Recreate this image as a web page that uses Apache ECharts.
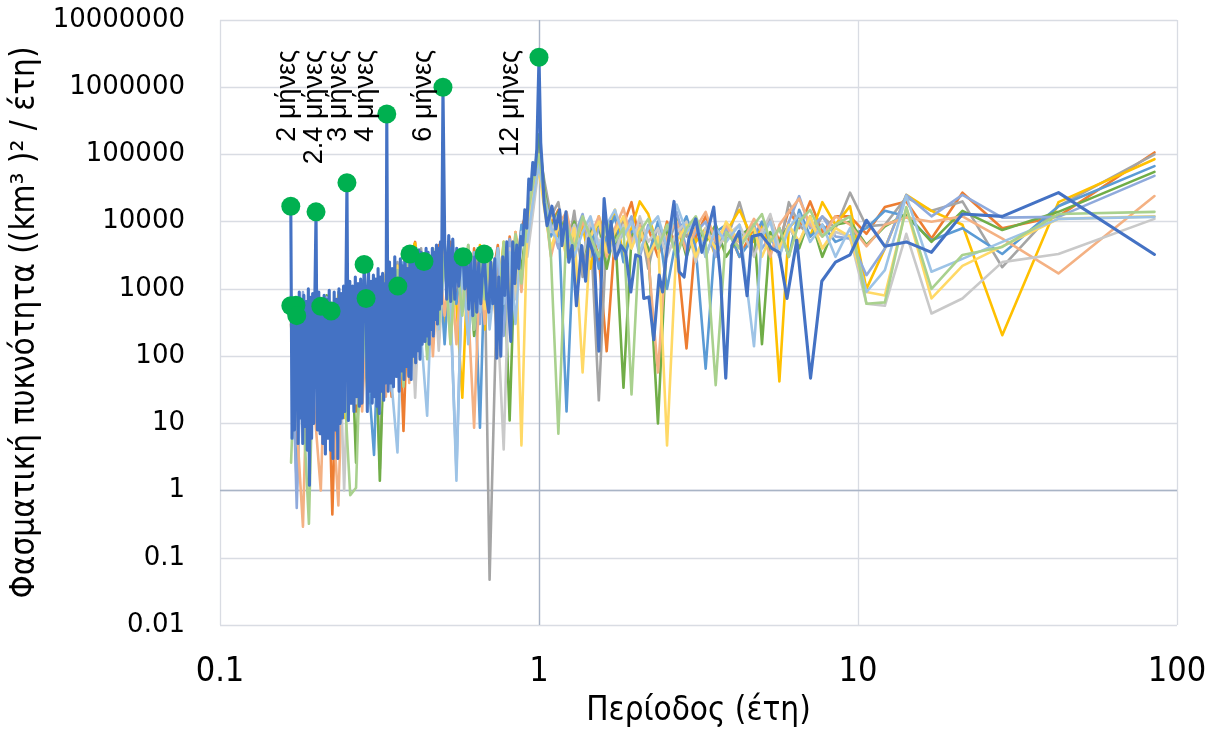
<!DOCTYPE html>
<html>
<head>
<meta charset="utf-8">
<script src="https://cdn.jsdelivr.net/npm/echarts@6.0.0/dist/echarts.min.js"></script>
<style>
html, body { margin: 0; padding: 0; background: #ffffff; }
#chart { width: 1215px; height: 733px; }
</style>
</head>
<body>
<div id="chart"></div>
<script>
// Shared period grid (years) for the eleven background spectra
const periodGrid = [
  0.167, 0.174, 0.182, 0.19, 0.198, 0.207, 0.216, 0.225, 0.235, 0.245,
  0.256, 0.267, 0.279, 0.291, 0.304, 0.317, 0.331, 0.345, 0.36, 0.376,
  0.392, 0.409, 0.427, 0.446, 0.465, 0.485, 0.506, 0.528, 0.551, 0.575,
  0.6, 0.626, 0.653, 0.676, 0.70, 0.743, 0.775, 0.809, 0.844, 0.881,
  0.919, 0.96,
  1.0, 1.04, 1.09, 1.15, 1.22, 1.29, 1.37, 1.45, 1.54, 1.63,
  1.73, 1.84, 1.95, 2.07, 2.2, 2.36, 2.52, 2.7, 2.9, 3.1,
  3.33, 3.58, 3.86, 4.25, 4.72, 5.0, 5.31, 5.67, 6.07, 6.54,
  7.08, 7.73, 8.5, 9.44,
  10.63, 12.14, 14.17, 17, 21.25, 28.33, 42.5, 85
];

// Spectral density values on periodGrid, one array per station
const densOrange = [
  300, 12, 700, 30, 500, 8, 650, 0.44, 800, 20,
  900, 15, 1200, 40, 1000, 60, 1500, 25, 2000, 7.7,
  2500, 5000, 150, 3000, 400, 4500, 300, 5000, 600, 3500,
  200, 4000, 500, 3000, 800, 4500, 300, 6000, 1500, 8000,
  15000, 25000,
  150000, 30000, 9000, 15000, 4000, 12000, 2000, 8000, 3000, 118,
  6000, 9000, 19500, 5000, 8000, 3000, 10000, 4000, 130, 6000,
  12000, 5000, 9000, 3000, 8000, 6000, 12000, 5000, 15000, 8000,
  20000, 7000, 12000, 12000,
  6600, 16500, 20000, 5600, 27000, 8000, 12000, 107000
];
const densGray = [
  400, 5, 600, 15, 700, 25, 500, 10, 900, 30,
  800, 20, 1100, 50, 1300, 2.1, 1500, 40, 2500, 100,
  3000, 200, 4000, 120, 3500, 500, 4000, 250, 3000, 600,
  4500, 300, 3500, 2000, 0.047, 3000, 400, 5000, 800, 7000,
  4000, 18000,
  120000, 40000, 12000, 19500, 3000, 14500, 1500, 9000, 22, 7000,
  3000, 12000, 5000, 10000, 2000, 9000, 4000, 11000, 6000, 11000,
  3000, 8000, 5000, 19500, 3500, 6000, 12000, 4000, 19500, 9000,
  6000, 12000, 8000, 27000,
  8500, 9000, 23000, 14500, 20000, 2100, 17000, 100000
];
const densYellow = [
  350, 20, 500, 8, 600, 15, 700, 30, 800, 12,
  1000, 35, 900, 20, 1200, 45, 1400, 60, 2200, 90,
  3000, 4800, 300, 2500, 150, 4000, 250, 3500, 600, 24,
  3000, 400, 4500, 250, 3000, 700, 5000, 350, 7000, 1500,
  12000, 30000,
  100000, 25000, 10000, 6000, 12000, 3500, 9000, 2000, 12000, 5000,
  15000, 3000, 8000, 20000, 13000, 4000, 9000, 3000, 10000, 5000,
  8000, 3000, 7000, 15000, 5000, 9000, 4000, 42, 8000, 12000,
  6000, 19500, 9000, 17000,
  1000, 4000, 25000, 14500, 9000, 205, 19500, 85000
];
const densSky = [
  500, 1.1, 600, 10, 700, 25, 550, 12, 650, 40,
  1000, 30, 800, 60, 3.4, 1200, 80, 1800, 50, 2500,
  120, 3000, 200, 2000, 300, 3500, 150, 4000, 600, 2500,
  200, 3000, 8.6, 2500, 500, 4000, 300, 5000, 1000, 9000,
  6000, 20000,
  80000, 20000, 6000, 12000, 15, 8000, 3000, 10000, 2000, 6000,
  12000, 2500, 7000, 9000, 3000, 10000, 1000, 6000, 12000, 4000,
  65, 7000, 9000, 3000, 6000, 10000, 5000, 8000, 3000, 15000,
  6000, 9000, 5000, 6200,
  8000, 14500, 12000, 5300, 8000, 3300, 17000, 67000
];
const densGreen = [
  450, 15, 550, 6, 650, 20, 800, 8, 500, 25,
  700, 2.6, 900, 40, 1100, 1.4, 1300, 70, 1800, 40,
  2800, 100, 3500, 250, 3000, 180, 4500, 400, 3000, 800,
  2500, 200, 3500, 600, 3000, 250, 4000, 11, 6000, 2000,
  10000, 35000,
  200000, 30000, 8000, 14000, 5000, 10000, 3000, 7000, 9000, 2000,
  8000, 34, 6000, 9000, 4000, 10, 7000, 11000, 3000, 8000,
  5000, 9000, 3000, 6000, 9000, 150, 7000, 5000, 9000, 4000,
  12000, 3000, 9000, 10000,
  4500, 8500, 13000, 5000, 14500, 7500, 14000, 55000
];
const densLavender = [
  800, 0.55, 900, 20, 650, 8, 750, 35, 600, 15,
  1000, 40, 1300, 25, 900, 70, 1600, 30, 2000, 150,
  3500, 60, 2800, 300, 4000, 200, 3000, 500, 2, 2000,
  500, 3500, 300, 4000, 700, 3000, 200, 5500, 900, 7000,
  8000, 20000,
  90000, 25000, 9000, 4000, 11000, 6000, 13000, 3000, 8000, 10000,
  4000, 7000, 12000, 3000, 9000, 5000, 8000, 14000, 4000, 7000,
  10000, 3000, 8000, 5000, 9000, 4000, 6000, 3000, 10000, 24000,
  8000, 12000, 6000, 5600,
  1600, 4000, 25000, 12000, 25000, 11500, 11800, 48000
];
const densSalmon = [
  600, 10, 0.29, 700, 15, 1.0, 650, 20, 0.6, 500,
  30, 800, 15, 1000, 50, 1200, 25, 1500, 80, 2000,
  40, 2500, 150, 3000, 100, 3500, 400, 2500, 150, 3000,
  500, 8.6, 2500, 300, 4000, 150, 4500, 600, 7000, 900,
  15000, 30000,
  80000, 20000, 3000, 9000, 14000, 4000, 10000, 6000, 12000, 3000,
  8000, 16000, 5000, 9000, 3000, 57, 6000, 10000, 3500, 8000,
  14000, 5000, 9000, 4000, 11000, 7000, 3000, 9000, 14000, 22000,
  9000, 6000, 12000, 9000,
  4300, 9000, 11500, 10000, 12000, 5600, 1700, 24000
];
const densSilver = [
  300, 8, 450, 25, 600, 12, 500, 40, 700, 1.0,
  800, 20, 600, 35, 1000, 15, 1200, 50, 1600, 90,
  2000, 24, 2500, 200, 3000, 120, 3500, 350, 2500, 500,
  3000, 250, 2000, 600, 2500, 300, 4.1, 4000, 700, 6000,
  3000, 15000,
  70000, 20000, 7000, 13000, 4000, 9000, 3000, 10000, 5000, 7000,
  3000, 9000, 4000, 12000, 5000, 8000, 3000, 7000, 10000, 2500,
  8000, 4000, 6000, 9000, 3000, 7000, 13000, 4000, 8000, 5000,
  11000, 4000, 7000, 6000,
  600, 560, 6600, 430, 720, 2500, 3300, 11000
];
const densSand = [
  400, 30, 550, 12, 700, 40, 450, 18, 650, 60,
  900, 45, 1100, 80, 1300, 50, 1800, 100, 2200, 150,
  2600, 80, 3000, 400, 3500, 250, 4000, 150, 3000, 700,
  2500, 350, 4000, 500, 3000, 200, 4500, 800, 6000, 4.7,
  9000, 25000,
  60000, 15000, 4000, 9000, 3000, 8000, 57, 6000, 10000, 3500,
  7000, 12000, 4000, 8000, 3000, 6000, 4.7, 5000, 9000, 3000,
  7000, 4000, 10000, 5000, 8000, 3000, 6000, 4000, 9000, 5000,
  12000, 4000, 8000, 6000,
  900, 800, 16000, 720, 2200, 4300, 11000, 12000
];
const densPaleBlue = [
  700, 20, 500, 6, 800, 30, 600, 10, 700, 25,
  900, 60, 1100, 30, 1400, 90, 1200, 40, 3.7, 2000,
  110, 2800, 200, 13, 3000, 250, 2500, 600, 1.4, 3500,
  150, 2500, 450, 3000, 250, 4000, 600, 3500, 300, 7000,
  5000, 22000,
  70000, 22000, 8000, 5000, 10000, 3000, 7000, 12000, 4000, 9000,
  15000, 6000, 10000, 3500, 8000, 12000, 4000, 18000, 7000, 10000,
  3000, 8000, 5000, 9000, 140, 6000, 10000, 3000, 8000, 13000,
  5000, 9000, 3000, 8000,
  900, 1900, 24000, 1800, 2800, 5000, 11000, 11800
];
const densSage = [
  2.6, 500, 20, 0.32, 600, 12, 700, 25, 550, 40,
  0.85, 1.1, 900, 30, 1100, 20, 1400, 60, 1900, 35,
  2400, 150, 3200, 90, 4000, 300, 3000, 150, 3500, 400,
  4500, 250, 3000, 700, 4000, 350, 5000, 450, 6500, 1200,
  12000, 40000,
  100000, 25000, 3000, 7, 9000, 4000, 12000, 6000, 3000, 10000,
  5000, 8000, 27, 7000, 11000, 4000, 9000, 3000, 8000, 12000,
  5000, 37, 7000, 4000, 9000, 13000, 5000, 8000, 3000, 10000,
  15000, 6000, 9000, 12000,
  600, 630, 16500, 1000, 3200, 4200, 13000, 14000
];

// Main station: [period (years), spectral density]
const mainSpectrum = [
  // 2 to 2.4 months
  [0.1667, 17000], [0.1682, 6], [0.1697, 560], [0.1712, 8], [0.1727, 570], [0.1742, 400], [0.1757, 5], [0.1772, 900], [0.1787, 12], [0.1802, 700],
  [0.1817, 5], [0.1832, 800], [0.1847, 9], [0.1862, 650], [0.1877, 4], [0.1892, 1000], [0.1907, 1.2], [0.1922, 750], [0.1937, 6], [0.1952, 850],
  [0.1967, 10], [0.1982, 600], [0.2, 14000],
  // 2.4 to 3 months
  [0.202, 8], [0.204, 900], [0.206, 7], [0.208, 550], [0.21, 5], [0.212, 800], [0.214, 3.5], [0.216, 700], [0.218, 6], [0.22, 950],
  [0.222, 4], [0.224, 470], [0.226, 3], [0.228, 900], [0.23, 8], [0.232, 700], [0.234, 3], [0.236, 1000], [0.238, 10], [0.24, 850],
  [0.242, 12], [0.244, 1100], [0.246, 15], [0.248, 700], [0.25, 38000],
  // 3 to 4 months
  [0.2526, 11], [0.2552, 1300], [0.2578, 20], [0.2604, 1100], [0.263, 15], [0.2656, 1500], [0.2682, 25], [0.2708, 1200], [0.2734, 18], [0.276, 1400],
  [0.2786, 20], [0.283, 2300], [0.287, 720], [0.2896, 15], [0.2922, 1800], [0.2948, 30], [0.2974, 1300], [0.3, 20], [0.3026, 1600], [0.3052, 25],
  [0.3078, 1400], [0.3104, 18], [0.313, 2000], [0.3156, 14], [0.3182, 1500], [0.3208, 30], [0.3234, 1700], [0.326, 22], [0.3286, 1200], [0.3312, 40],
  [0.3333, 400000],
  // 4 to 6 months
  [0.3366, 30], [0.3399, 2500], [0.3432, 40], [0.3465, 2000], [0.3498, 35], [0.3531, 3000], [0.3564, 50], [0.361, 1100], [0.3643, 30], [0.3676, 2800],
  [0.3709, 60], [0.3742, 2200], [0.3775, 45], [0.3808, 2600], [0.3841, 70], [0.3874, 2000], [0.3907, 50], [0.394, 3300], [0.3973, 45], [0.4006, 4000],
  [0.4039, 100], [0.4072, 2500], [0.4105, 80], [0.4138, 3000], [0.4171, 120], [0.4204, 3800], [0.4237, 90], [0.427, 3500], [0.4303, 150], [0.4336, 2800],
  [0.436, 2550], [0.4393, 165], [0.4426, 4000], [0.4459, 200], [0.4492, 3500], [0.4526, 150], [0.456, 3000], [0.4595, 250], [0.463, 4000], [0.4665, 200],
  [0.47, 3500], [0.4735, 350], [0.477, 4500], [0.4805, 300], [0.484, 4000], [0.4875, 500], [0.491, 5000], [0.4945, 600], [0.5, 1000000],
  // 6 to 12 months
  [0.5064, 5000], [0.5138, 700], [0.5213, 6200], [0.5289, 650], [0.5366, 5500], [0.5444, 700], [0.5523, 4000], [0.5603, 1100], [0.5685, 2500], [0.578, 3000],
  [0.5851, 1000], [0.5936, 3500], [0.6023, 500], [0.611, 2800], [0.6199, 400], [0.6289, 3000], [0.6381, 450], [0.6474, 2500], [0.6568, 600], [0.6664, 2000],
  [0.673, 3300], [0.6859, 700], [0.6959, 450], [0.706, 2500], [0.7163, 600], [0.7267, 2800], [0.7373, 93], [0.748, 1500], [0.7589, 100], [0.77, 3000],
  [0.7812, 800], [0.7925, 5000], [0.8041, 500], [0.8158, 165], [0.8276, 5000], [0.8397, 1200], [0.8519, 4500], [0.8643, 2000], [0.8769, 6000], [0.8896, 4500],
  [0.9026, 15000], [0.9157, 8000], [0.929, 43000], [0.9426, 30000], [0.9563, 76000], [0.9702, 50000], [0.9843, 120000], [1, 2800000],
  // longer than a year
  [1.0125, 150000], [1.025, 60000], [1.037, 19500], [1.06, 8700], [1.098, 17000], [1.13, 7800], [1.16, 15000], [1.18, 4400], [1.215, 14000], [1.24, 2500],
  [1.27, 4400], [1.31, 560], [1.36, 4400], [1.4, 1300], [1.43, 5600], [1.49, 3000], [1.54, 118], [1.6, 22000], [1.66, 3500], [1.68, 10000],
  [1.74, 2800], [1.81, 4400], [1.87, 3500], [1.94, 900], [2.01, 3200], [2.08, 3000], [2.13, 720], [2.21, 760], [2.29, 175], [2.38, 1600],
  [2.44, 900], [2.5, 2800], [2.65, 20000], [2.75, 1800], [2.85, 1500], [2.95, 5600], [3.1, 11000], [3.24, 3500], [3.36, 6500], [3.53, 16500],
  [3.71, 1400], [3.85, 47], [4.02, 4400], [4.24, 7200], [4.49, 790], [4.65, 6000], [4.96, 6500], [5.18, 5000], [5.37, 4000], [5.66, 3500],
  [5.99, 720], [6.43, 5300], [7.1, 47], [7.7, 1300], [8.5, 2500], [9.44, 3200], [10.63, 10500], [12.14, 4300], [14.17, 5000], [17, 3500],
  [21.25, 13000], [28.33, 12000], [42.5, 27000], [85, 3250]
];

// Highlighted spectral peaks of the main station
const peakPeriods = [0.1667, 0.2, 0.25, 0.3333, 0.5, 1.0, 0.1667, 0.173, 0.174, 0.207, 0.223, 0.283, 0.287, 0.361, 0.394, 0.436, 0.578, 0.673];
const peakValues = [17000, 14000, 38000, 400000, 1000000, 2800000, 560, 570, 400, 550, 470, 2300, 720, 1100, 3300, 2550, 3000, 3300];

// Annotated periodicities
const annotationPeriods = [0.1667, 0.2, 0.25, 0.3333, 0.5, 1.0];
const annotationTexts = ['2 μήνες', '2.4 μήνες', '3 μήνες', '4 μήνες', '6 μήνες', '12 μήνες'];

// Background stations, drawn in this order underneath the main station
const background = [
  { name: 'Σταθμός 2', color: '#ED7D31', values: densOrange },
  { name: 'Σταθμός 3', color: '#A5A5A5', values: densGray },
  { name: 'Σταθμός 4', color: '#FFC000', values: densYellow },
  { name: 'Σταθμός 5', color: '#5B9BD5', values: densSky },
  { name: 'Σταθμός 6', color: '#70AD47', values: densGreen },
  { name: 'Σταθμός 7', color: '#8FAADC', values: densLavender },
  { name: 'Σταθμός 8', color: '#F4B183', values: densSalmon },
  { name: 'Σταθμός 9', color: '#C9C9C9', values: densSilver },
  { name: 'Σταθμός 10', color: '#FFD966', values: densSand },
  { name: 'Σταθμός 11', color: '#9DC3E6', values: densPaleBlue },
  { name: 'Σταθμός 12', color: '#A9D18E', values: densSage }
];

function tickText(v) {
  if (v >= 1) return String(Math.round(v));
  return String(parseFloat(v.toPrecision(1)));
}

const narrowFont = '"Liberation Sans Narrow", "DejaVu Sans Condensed", "Liberation Sans", sans-serif';
const gridColor = '#D9DCE3';
const crossColor = '#A9B4C6';

const series = background.map(function (s, i) {
  const item = {
    name: s.name,
    type: 'line',
    data: s.values.map(function (v, k) { return [periodGrid[k], v]; }),
    showSymbol: false,
    symbol: 'none',
    lineStyle: { color: s.color, width: 2.6, join: 'round', cap: 'round' },
    itemStyle: { color: s.color },
    z: 2 + i * 0.01,
    silent: true
  };
  if (i === 0) {
    // axis lines crossing at period 1 and density 1
    item.markLine = {
      silent: true,
      symbol: ['none', 'none'],
      label: { show: false },
      lineStyle: { color: crossColor, width: 1.3, type: 'solid' },
      data: [{ xAxis: 1 }, { yAxis: 1 }],
      z: 1
    };
  }
  return item;
});

series.push({
  name: 'Σταθμός 1',
  type: 'line',
  data: mainSpectrum,
  showSymbol: false,
  symbol: 'none',
  lineStyle: { color: '#4472C4', width: 3.1, join: 'round', cap: 'round' },
  itemStyle: { color: '#4472C4' },
  z: 3,
  silent: true
});

series.push({
  name: 'Κορυφές',
  type: 'scatter',
  data: peakPeriods.map(function (p, i) { return [p, peakValues[i]]; }),
  symbol: 'circle',
  symbolSize: 19,
  itemStyle: { color: '#00B050', opacity: 1 },
  z: 4,
  silent: true
});

const chart = echarts.init(document.getElementById('chart'), null, { renderer: 'canvas' });

chart.setOption({
  animation: false,
  backgroundColor: '#ffffff',
  grid: { left: 220, right: 38, top: 20, bottom: 105, containLabel: false },
  xAxis: {
    type: 'log',
    logBase: 10,
    min: 0.1,
    max: 100,
    axisLine: { show: false },
    axisTick: { show: false },
    splitLine: { show: true, lineStyle: { color: gridColor, width: 1.3 } },
    axisLabel: {
      formatter: tickText,
      fontFamily: narrowFont,
      fontSize: 34,
      color: '#000000',
      margin: 30
    },
    name: 'Περίοδος (έτη)',
    nameLocation: 'middle',
    nameGap: 70,
    nameTextStyle: { fontFamily: narrowFont, fontSize: 33, color: '#000000' }
  },
  yAxis: {
    type: 'log',
    logBase: 10,
    min: 0.01,
    max: 10000000,
    axisLine: { show: false },
    axisTick: { show: false },
    splitLine: { show: true, lineStyle: { color: gridColor, width: 1.3 } },
    axisLabel: {
      formatter: tickText,
      fontFamily: '"DejaVu Sans", sans-serif',
      fontSize: 26,
      color: '#000000',
      margin: 35
    },
    name: 'Φασματική πυκνότητα ((km³ )² / έτη)',
    nameLocation: 'middle',
    nameGap: 178,
    nameRotate: 90,
    nameTextStyle: { fontFamily: narrowFont, fontSize: 33, color: '#000000' }
  },
  series: series
});

// Rotated period annotations, top-aligned above the peaks
const annotationShift = [-3, -1, -8, -21, -19, -28];
chart.setOption({
  graphic: annotationTexts.map(function (t, i) {
    const px = chart.convertToPixel({ gridIndex: 0 }, [annotationPeriods[i], 1])[0];
    return {
      type: 'text',
      x: px + annotationShift[i],
      y: 50,
      rotation: Math.PI / 2,
      silent: true,
      z: 10,
      style: {
        text: t,
        font: '27px "Liberation Sans", sans-serif',
        fill: '#000000',
        textAlign: 'right',
        textVerticalAlign: 'middle',
        align: 'right',
        verticalAlign: 'middle'
      }
    };
  })
});
</script>
</body>
</html>
